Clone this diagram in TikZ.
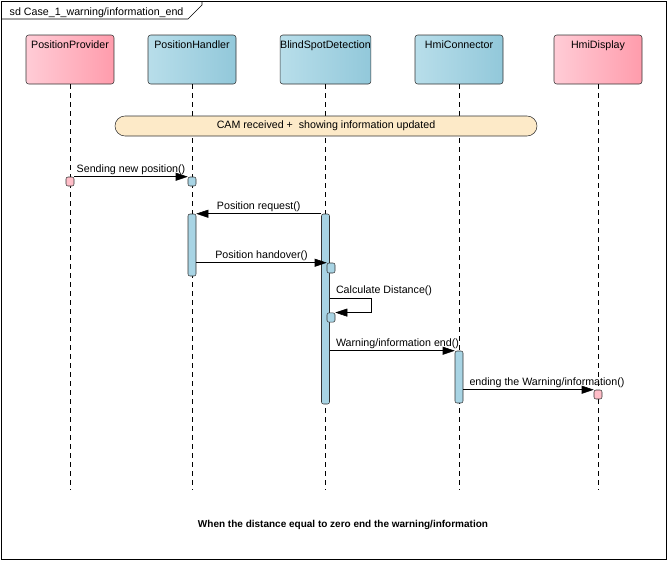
\documentclass[tikz,border=0pt]{standalone}
\usepackage{fontspec}
\setmainfont{Liberation Sans}
\usetikzlibrary{arrows.meta}
\definecolor{pinkL}{RGB}{255,204,214}
\definecolor{pinkR}{RGB}{255,156,172}
\definecolor{blueL}{RGB}{184,222,234}
\definecolor{blueR}{RGB}{146,200,218}
\definecolor{actblue}{RGB}{168,212,228}
\definecolor{actpink}{RGB}{255,190,200}
\definecolor{camfill}{RGB}{253,234,200}
\begin{document}
\begin{tikzpicture}[x=0.75pt,y=-0.75pt,
    every node/.style={font=\fontsize{8}{9.5}\selectfont},
    head/.style={draw=black!80,rounded corners=2pt,minimum width=66pt,inner sep=0pt,
      text height=9.75pt,text depth=27pt},
    pinkhead/.style={head,left color=pinkL,right color=pinkR},
    bluehead/.style={head,left color=blueL,right color=blueR},
    life/.style={dash pattern=on 3.75pt off 3pt},
    act/.style={draw=black!80,fill=actblue,rounded corners=1.5pt,minimum width=6pt,inner sep=0pt},
    msg/.style={-{Triangle[length=9pt,width=6pt]}},
    lbl/.style={above,inner sep=1.5pt}]
  \useasboundingbox (0,0) rectangle (668,561);
  \draw (1,1) rectangle (666,559);
  \draw (1,19) -- (188,19) -- (202,5) -- (202,1);
  \node[anchor=base west] (title) at (5,15) {sd Case\_1\_warning/information\_end};

  \node[pinkhead] (pp) at (70,59.5) {PositionProvider};
  \node[bluehead] (ph) at (192,59.5) {PositionHandler};
  \node[bluehead] (bsd) at (325.5,59.5) {BlindSpotDetection};
  \node[bluehead] (hc) at (459,59.5) {HmiConnector};
  \node[pinkhead] (hd) at (598,59.5) {HmiDisplay};
  \foreach \l in {pp,ph,bsd,hc,hd} {
    \coordinate (\l end) at (\l.south |- 0,490);
    \draw[life] (\l.south) -- (\l end);
  }

  \node[draw=black!80,fill=camfill,rounded corners=7.5pt,minimum width=316.5pt,minimum height=15pt] (cam)
    at (326,126) {CAM received +\ \ showing information updated};

  \node[act,fill=actpink,minimum height=6.75pt] (ppa) at (70,181.5) {};
  \node[act,minimum height=6.75pt] (pha) at (192,181.5) {};
  \node[act,minimum height=46.5pt] (phbar) at (192,245) {};
  \node[act,minimum height=142.5pt] (bsdbar) at (325.5,309) {};
  \node[act,minimum height=7.5pt] (bsda) at (331,268) {};
  \node[act,minimum height=7pt] (bsdb) at (331,317.5) {};
  \node[act,minimum height=39pt] (hca) at (459,377) {};
  \node[act,fill=actpink,minimum height=6.75pt] (hda) at (598,394.5) {};
  \coordinate (calc) at (371,298);

  \draw[msg] (ppa.north east) -- (pha.north west) node[lbl,midway] {Sending new position()};
  \draw[msg] (bsdbar.north west) -- (phbar.north east) node[lbl,midway] {Position request()};
  \draw[msg] (phbar.east |- bsda.north west) -- (bsda.north west) node[lbl,midway] {Position handover()};
  \draw[msg] (bsdbar.east |- calc) -- (calc) |- (bsdb.north east);
  \node[lbl,anchor=south west,xshift=3pt] (calclbl) at (bsdbar.east |- calc) {Calculate Distance()};
  \draw[msg] (bsdbar.east |- hca.north west) -- (hca.north west)
    node[lbl,anchor=south west,pos=0,xshift=3pt] {Warning/information end()};
  \draw[msg] (hca.east |- hda.north west) -- (hda.north west)
    node[lbl,anchor=south west,pos=0,xshift=3pt] {ending the Warning/information()};

  \node[font=\fontsize{7.5}{9}\selectfont\bfseries] (note) at (343,525) {When the distance equal to zero end the warning/information};
\end{tikzpicture}
\end{document}
